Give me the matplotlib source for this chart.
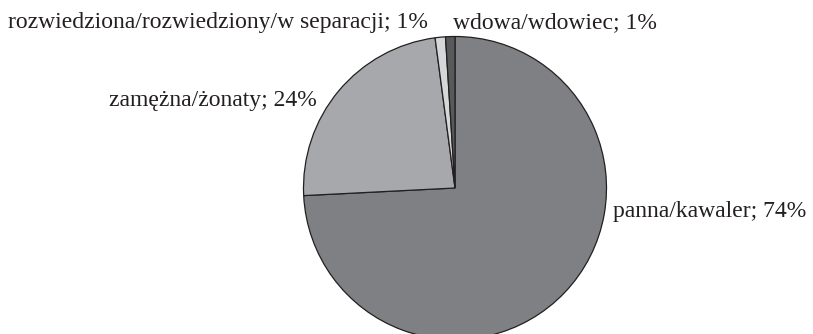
import matplotlib
matplotlib.use('Agg')
import matplotlib.pyplot as plt

# marital status shares (%)
categories = ['panna/kawaler', 'zamężna/żonaty',
              'rozwiedziona/rozwiedziony/w separacji', 'wdowa/wdowiec']
shares = [74.2, 23.7, 1.1, 1.0]
share_labels = ['74%', '24%', '1%', '1%']
colors = ['#7f8084', '#a7a8ab', '#d6d7d9', '#58595b']

W, H = 813, 334
CX, CY, R = 455, 188, 151.5

plt.rcParams['font.family'] = ['Liberation Serif', 'DejaVu Serif']

fig = plt.figure(figsize=(W / 100, H / 100), dpi=100)
ax = fig.add_axes([0, 0, 1, 1])
ax.pie(shares, colors=colors, startangle=90, counterclock=False,
       radius=1, wedgeprops={'edgecolor': '#231f20', 'linewidth': 0.9})
ax.set_xlim(-CX / R, (W - CX) / R)
ax.set_ylim(-(H - CY) / R, CY / R)
ax.set_aspect('auto')
ax.axis('off')

# label positions in pixels (left x, baseline y)
label_pos = [(613, 217, 'left'), (317, 106, 'right'),
             (8, 28, 'left'), (453, 28, 'left')]
for cat, lab, (x, y, ha) in zip(categories, share_labels, label_pos):
    fig.text(x / W, 1 - y / H, f'{cat}; {lab}', ha=ha, va='baseline',
             fontsize=17, color='#231f20')

fig.savefig('out.png', dpi=100)
